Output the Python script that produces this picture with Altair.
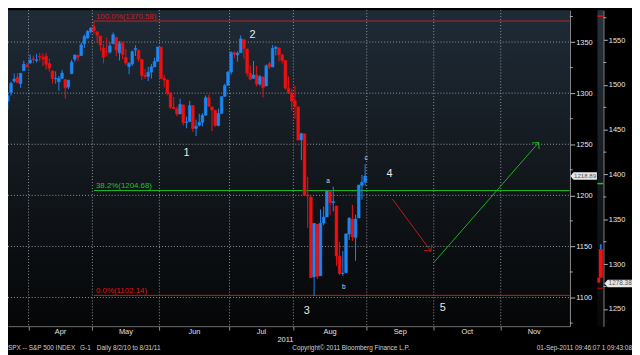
import altair as alt
import pandas as pd

# ---------------- data (S&P 500 daily candles) ----------------
dates = ["2011-03-22","2011-03-23","2011-03-24","2011-03-25","2011-03-28","2011-03-29","2011-03-30","2011-03-31",
         "2011-04-01","2011-04-04","2011-04-05","2011-04-06","2011-04-07","2011-04-08","2011-04-11","2011-04-12",
         "2011-04-13","2011-04-14","2011-04-15","2011-04-18","2011-04-19","2011-04-20","2011-04-21","2011-04-25",
         "2011-04-26","2011-04-27","2011-04-28","2011-04-29","2011-05-02","2011-05-03","2011-05-04","2011-05-05",
         "2011-05-06","2011-05-09","2011-05-10","2011-05-11","2011-05-12","2011-05-13","2011-05-16","2011-05-17",
         "2011-05-18","2011-05-19","2011-05-20","2011-05-23","2011-05-24","2011-05-25","2011-05-26","2011-05-27",
         "2011-05-31","2011-06-01","2011-06-02","2011-06-03","2011-06-06","2011-06-07","2011-06-08","2011-06-09",
         "2011-06-10","2011-06-13","2011-06-14","2011-06-15","2011-06-16","2011-06-17","2011-06-20","2011-06-21",
         "2011-06-22","2011-06-23","2011-06-24","2011-06-27","2011-06-28","2011-06-29","2011-06-30","2011-07-01",
         "2011-07-05","2011-07-06","2011-07-07","2011-07-08","2011-07-11","2011-07-12","2011-07-13","2011-07-14",
         "2011-07-15","2011-07-18","2011-07-19","2011-07-20","2011-07-21","2011-07-22","2011-07-25","2011-07-26",
         "2011-07-27","2011-07-28","2011-07-29","2011-08-01","2011-08-02","2011-08-03","2011-08-04","2011-08-05",
         "2011-08-08","2011-08-09","2011-08-10","2011-08-11","2011-08-12","2011-08-15","2011-08-16","2011-08-17",
         "2011-08-18","2011-08-19","2011-08-22","2011-08-23","2011-08-24","2011-08-25","2011-08-26","2011-08-29",
         "2011-08-30","2011-08-31"]
opens = [1298.29,1292.19,1300.61,1311.80,1315.45,1309.37,1321.89,1327.44,
         1329.48,1333.56,1332.03,1335.94,1334.82,1336.16,1329.01,1321.96,
         1314.03,1311.13,1314.54,1313.35,1305.99,1319.12,1333.23,1337.14,
         1336.75,1348.43,1353.86,1360.14,1365.21,1359.76,1355.90,1344.16,
         1340.24,1340.20,1348.34,1354.51,1339.39,1348.69,1334.77,1326.10,
         1328.54,1342.40,1342.00,1333.07,1317.70,1316.36,1320.64,1325.69,
         1331.10,1345.20,1314.55,1312.94,1300.26,1286.31,1284.63,1279.63,
         1288.60,1271.31,1272.22,1287.87,1265.53,1268.58,1271.50,1278.40,
         1295.48,1286.60,1283.04,1268.44,1280.21,1296.85,1307.64,1320.64,
         1339.59,1337.56,1339.62,1352.39,1343.31,1319.61,1314.45,1317.74,
         1308.87,1315.94,1307.07,1328.66,1325.65,1343.80,1344.32,1337.39,
         1331.91,1304.84,1300.12,1292.59,1286.56,1254.25,1260.23,1200.28,
         1198.48,1120.23,1171.77,1121.30,1172.87,1178.86,1204.22,1192.89,
         1189.62,1140.47,1123.55,1124.36,1162.16,1176.69,1158.85,1177.91,
         1209.76,1213.00]
highs = [1299.35,1300.51,1311.34,1319.18,1319.74,1319.45,1331.74,1329.77,
         1337.85,1336.74,1338.21,1339.38,1338.80,1339.46,1333.77,1321.96,
         1321.35,1316.79,1322.88,1313.35,1312.70,1332.66,1337.49,1337.55,
         1349.55,1357.49,1361.71,1364.56,1370.58,1360.84,1355.90,1348.00,
         1354.36,1349.44,1359.44,1354.51,1351.05,1350.47,1343.33,1330.42,
         1341.82,1346.82,1342.00,1333.07,1323.72,1325.86,1328.51,1334.62,
         1345.20,1345.20,1318.03,1312.94,1300.26,1296.22,1287.04,1294.54,
         1288.60,1277.04,1292.50,1287.87,1274.11,1279.82,1280.42,1297.62,
         1298.61,1286.60,1283.93,1284.91,1296.80,1309.21,1321.97,1341.01,
         1340.89,1340.94,1356.48,1352.39,1343.31,1327.17,1331.48,1326.88,
         1317.70,1315.94,1328.14,1330.43,1347.00,1346.10,1344.32,1338.51,
         1331.91,1316.32,1304.16,1307.38,1286.56,1261.20,1260.23,1218.11,
         1198.48,1172.88,1171.77,1186.29,1189.04,1204.49,1204.22,1208.47,
         1189.62,1154.54,1145.49,1162.35,1178.56,1190.68,1181.23,1210.28,
         1220.10,1230.71]
lows = [1292.70,1284.05,1297.74,1310.15,1310.19,1305.26,1321.89,1325.03,
        1328.89,1329.10,1330.03,1331.09,1326.56,1322.94,1321.06,1309.51,
        1309.19,1302.42,1313.68,1294.70,1303.97,1319.12,1330.70,1331.47,
        1336.75,1344.25,1353.60,1358.69,1358.59,1349.52,1341.50,1329.17,
        1335.58,1338.64,1348.34,1336.36,1332.03,1333.36,1327.32,1318.51,
        1326.59,1336.36,1330.67,1312.88,1313.87,1311.80,1314.41,1325.69,
        1331.10,1313.71,1305.61,1297.90,1284.72,1284.74,1277.42,1279.63,
        1268.28,1265.64,1272.22,1261.90,1258.07,1267.40,1267.56,1278.40,
        1286.79,1262.87,1267.24,1267.53,1280.21,1296.85,1307.64,1318.18,
        1334.30,1330.92,1339.62,1333.71,1316.42,1313.33,1314.45,1306.51,
        1307.35,1295.92,1307.07,1323.65,1325.65,1336.95,1331.09,1329.10,
        1303.49,1299.16,1282.86,1274.73,1254.03,1234.56,1199.54,1168.09,
        1119.28,1101.54,1118.01,1121.30,1170.74,1178.86,1180.53,1184.36,
        1131.03,1122.05,1121.09,1124.36,1156.30,1155.47,1135.91,1177.91,
        1195.77,1209.35]
closes = [1293.77,1297.54,1309.66,1313.80,1310.19,1319.44,1328.26,1325.83,
          1332.41,1332.87,1332.63,1335.54,1333.51,1328.17,1324.46,1314.16,
          1314.41,1314.52,1319.68,1305.14,1312.62,1330.36,1337.38,1335.25,
          1347.24,1355.66,1360.48,1363.61,1361.22,1356.62,1347.32,1335.10,
          1340.20,1346.29,1357.16,1342.08,1348.65,1337.77,1329.47,1328.98,
          1340.68,1343.60,1333.27,1317.37,1316.28,1320.47,1325.69,1331.10,
          1345.20,1314.55,1312.94,1300.16,1286.17,1284.94,1279.56,1289.00,
          1270.98,1271.83,1287.87,1265.42,1267.64,1271.50,1278.36,1295.52,
          1287.14,1283.50,1268.45,1280.10,1296.67,1307.41,1320.64,1339.67,
          1337.88,1339.22,1353.22,1343.80,1319.49,1313.64,1317.72,1308.87,
          1316.14,1305.44,1326.73,1325.84,1343.80,1345.02,1337.43,1331.94,
          1304.89,1300.67,1292.28,1286.94,1254.05,1260.34,1200.07,1199.38,
          1119.46,1172.53,1120.76,1172.64,1178.81,1204.49,1192.76,1193.89,
          1140.65,1123.53,1123.82,1162.35,1177.60,1159.27,1176.80,1210.08,
          1212.92,1218.89]

# trading days per month (first entry: the visible part of March)
first_month_days = 8
month_names = ["Apr", "May", "Jun", "Jul", "Aug", "Sep", "Oct", "Nov"]
month_days = [20, 21, 22, 20, 23, 21, 21, 21]

y_major = [1100, 1150, 1200, 1250, 1300, 1350]
y_minor = [1075, 1125, 1175, 1225, 1275, 1325, 1375]

fib_labels = ["100.0%(1370.58)", "38.2%(1204.68)", "0.0%(1102.14)"]
fib_values = [1370.58, 1204.68, 1102.14]
fib_colors = ["#c81e1e", "#22c022", "#e01414"]
fib_start = [28, 28, 28]

wave_text = ["1", "2", "3", "4", "5"]
wave_idx = [57.0, 77.7, 94.7, 120.6, 137.3]
wave_price = [1241.0, 1357.0, 1086.5, 1220.8, 1089.6]

sub_text = ["a", "b", "c"]
sub_idx = [101.4, 106.3, 113.3]
sub_price = [1214.0, 1109.8, 1237.0]

arrow_from_idx = [121.5, 134.6]
arrow_from_price = [1196.6, 1134.5]
arrow_to_idx = [133.6, 167.4]
arrow_to_price = [1145.4, 1251.7]
arrow_colors = ["#c01818", "#22b022"]
arrow_angles = [143.0, 41.7]

last_price = [1218.89]
last_label = ["1218.89"]

# small right-hand panel
mini_levels = [1576.8, 1389.9, 1273.0]
mini_level_colors = ["#e01010", "#22c022", "#8b0a0a"]
mini_x = [0, 0, 1]
mini_lo = [1316.8, 1284.8, 1279.3]
mini_hi = [1322.3, 1316.8, 1284.8]
mini_colors = ["#1d86f2", "#f01010", "#f01010"]
mini_w = [1.5, 4, 3]
mini_major = [1250, 1300, 1350, 1400, 1450, 1500, 1550]
mini_minor = [1275, 1325, 1375, 1425, 1475, 1525, 1575]
mini_last = [1278.38]
mini_last_label = ["1278.38"]

footer_text = ["SPX -- S&P 500 INDEX", "G-1", "Daily  8/2/10 to 8/31/11",
               "Copyright\u00a9 2011 Bloomberg Finance L.P.", "01-Sep-2011 09:46:07 1 09:43:08"]
footer_x = [0, 73, 90, 288, 632]
footer_align = ["left", "left", "left", "left", "right"]

# ---------------- layout ----------------
W, H = 569, 320
X_DOMAIN = [2.6, 175.6]
Y_DOMAIN = [1072.0, 1381.2]
MINI_DOMAIN = [1230.8, 1583.4]
FONT = "Liberation Sans"
UP, DOWN = "#1d86f2", "#f01010"
GRID = "#8f979e"

bounds = []
s = first_month_days - 0.5
for d in month_days:
    bounds.append(s)
    s += d
bounds_end = bounds[1:] + [s]
centers = [(a + b) / 2 for a, b in zip(bounds, bounds_end)]

cdf = pd.DataFrame({"date": dates, "open": opens, "high": highs, "low": lows, "close": closes})
cdf["i"] = range(len(cdf))
cdf["dir"] = ["up" if c >= o else "down" for o, c in zip(opens, closes)]

xs = alt.Scale(domain=X_DOMAIN, nice=False, zero=False)
ys = alt.Scale(domain=Y_DOMAIN, nice=False, zero=False)
mys = alt.Scale(domain=MINI_DOMAIN, nice=False, zero=False)
cscale = alt.Scale(domain=["up", "down"], range=[UP, DOWN])

grad = {"gradient": "linear", "x1": 0, "x2": 0, "y1": 0, "y2": 1,
        "stops": [{"offset": 0, "color": "#1f2b37"},
                  {"offset": 0.45, "color": "#141a20"},
                  {"offset": 1, "color": "#050607"}]}
grad_mini = {"gradient": "linear", "x1": 0, "x2": 0, "y1": 0, "y2": 1,
             "stops": [{"offset": 0, "color": "#27313a"},
                       {"offset": 0.5, "color": "#161b20"},
                       {"offset": 1, "color": "#060708"}]}

one = pd.DataFrame({"k": [0]})

x_axis = alt.Axis(values=bounds, labels=False, ticks=True, tickSize=4, tickColor="#8c8c8c",
                  domainColor="#8c8c8c", grid=False, title=None)
y_axis = alt.Axis(orient="right", values=y_major, format="d", grid=False, tickSize=5,
                  tickColor="#b4b4b4", domainColor="#a8a8a8", labelColor="#e8e8e8",
                  labelFont=FONT, labelFontSize=7.5, labelPadding=1, title=None)
mini_axis = alt.Axis(orient="right", offset=34, values=mini_major, format="d", grid=False,
                     tickSize=4, tickColor="#b4b4b4", domainColor="#a8a8a8", labelColor="#e8e8e8",
                     labelFont=FONT, labelFontSize=7.5, labelPadding=1, title=None)


def X(field):
    return alt.X(field, scale=xs, axis=x_axis)


def Y(field):
    return alt.Y(field, scale=ys, axis=y_axis)


def MY(field):
    return alt.Y(field, scale=mys, axis=mini_axis)


bg = alt.Chart(one).mark_rect(color=grad).encode(
    x=alt.value(0), x2=alt.value(W), y=alt.value(0), y2=alt.value(H))

hgrid = alt.Chart(pd.DataFrame({"v": y_major})).mark_rule(
    color=GRID, strokeDash=[1, 2], strokeWidth=1).encode(
    y=Y("v:Q"), x=alt.value(0), x2=alt.value(W))
vgrid = alt.Chart(pd.DataFrame({"b": bounds})).mark_rule(
    color=GRID, strokeDash=[1, 2], strokeWidth=1).encode(
    x=X("b:Q"), y=alt.value(0), y2=alt.value(H))

minor = alt.Chart(pd.DataFrame({"v": y_minor})).mark_rule(color="#a8a8a8").encode(
    y=Y("v:Q"), x=alt.value(W), x2=alt.value(W + 3))

wick = alt.Chart(cdf).mark_rule(strokeWidth=1).encode(
    x=X("i:Q"), y=Y("low:Q"), y2="high:Q",
    color=alt.Color("dir:N", scale=cscale, legend=None))
body = alt.Chart(cdf).mark_bar(size=2.7, strokeWidth=0.6).encode(
    x=X("i:Q"), y=Y("open:Q"), y2="close:Q",
    color=alt.Color("dir:N", scale=cscale, legend=None),
    stroke=alt.Stroke("dir:N", scale=cscale, legend=None))

fdf = pd.DataFrame({"label": fib_labels, "value": fib_values, "color": fib_colors, "start": fib_start})
fib_rule = alt.Chart(fdf).mark_rule(strokeWidth=1).encode(
    x=X("start:Q"), x2=alt.value(W), y=Y("value:Q"), color=alt.Color("color:N", scale=None))
fib_text = alt.Chart(fdf).mark_text(align="left", baseline="middle", dx=2, dy=-4.5,
                                    font=FONT, fontSize=8).encode(
    x=X("start:Q"), y=Y("value:Q"), text="label:N", color=alt.Color("color:N", scale=None))

adf = pd.DataFrame({"x1": arrow_from_idx, "y1": arrow_from_price, "x2": arrow_to_idx,
                    "y2": arrow_to_price, "color": arrow_colors, "angle": arrow_angles})
arrow_line = alt.Chart(adf).mark_rule(strokeWidth=1).encode(
    x=X("x1:Q"), y=Y("y1:Q"), x2="x2:Q", y2="y2:Q", color=alt.Color("color:N", scale=None))
arrow_head = alt.Chart(adf).mark_point(shape="M-1,1L0,0L1,1", filled=False, size=90,
                                       strokeWidth=1, opacity=1).encode(
    x=X("x2:Q"), y=Y("y2:Q"),
    angle=alt.Angle("angle:Q", scale=None), color=alt.Color("color:N", scale=None))

wdf = pd.DataFrame({"t": wave_text, "i": wave_idx, "p": wave_price})
wave = alt.Chart(wdf).mark_text(font=FONT, fontSize=11, color="#e8e8e8", baseline="middle").encode(
    x=X("i:Q"), y=Y("p:Q"), text="t:N")
sdf = pd.DataFrame({"t": sub_text, "i": sub_idx, "p": sub_price})
sub = alt.Chart(sdf).mark_text(font=FONT, fontSize=6.5, color="#d8d8d8", baseline="middle").encode(
    x=X("i:Q"), y=Y("p:Q"), text="t:N")

TAG = "M-1.15,0L-0.9,-0.3L1,-0.3L1,0.3L-0.9,0.3Z"
ldf = pd.DataFrame({"p": last_price, "t": last_label})
tag = alt.Chart(ldf).mark_point(shape=TAG, filled=True, size=625, color="#e6e6e6", opacity=1,
                                strokeWidth=0).encode(
    x=alt.value(584), y=Y("p:Q"))
tag_text = alt.Chart(ldf).mark_text(font=FONT, fontSize=6.2, color="#555555", baseline="middle").encode(
    x=alt.value(584.5), y=Y("p:Q"), text="t:N")

mdf = pd.DataFrame({"m": month_names, "c": centers})
months = alt.Chart(mdf).mark_text(font=FONT, fontSize=7.5, color="#e0e0e0", baseline="middle").encode(
    x=X("c:Q"), y=alt.value(H + 6), text="m:N")
year = alt.Chart(pd.DataFrame({"t": ["2011"], "c": [bounds[4] - 2.5]})).mark_text(
    font=FONT, fontSize=7.5, color="#e0e0e0", baseline="middle").encode(
    x=X("c:Q"), y=alt.value(H + 14), text="t:N")

footers = []
for t, fx, al in zip(footer_text, footer_x, footer_align):
    footers.append(alt.Chart(pd.DataFrame({"t": [t]})).mark_text(
        font=FONT, fontSize=6.5, color="#d0d0d0", baseline="middle", align=al).encode(
        x=alt.value(fx), y=alt.value(H + 22), text="t:N"))

main = alt.layer(bg, hgrid, vgrid, minor, fib_rule, fib_text, wick, body,
                 arrow_line, arrow_head, wave, sub, tag, tag_text, months, year, *footers)

# ---- mini panel ----
mini_bg = alt.Chart(one).mark_rect(color=grad_mini).encode(
    x=alt.value(597), x2=alt.value(603), y=alt.value(0), y2=alt.value(H))
mldf = pd.DataFrame({"v": mini_levels, "color": mini_level_colors})
mini_lv = alt.Chart(mldf).mark_rule(strokeWidth=1.5).encode(
    y=MY("v:Q"), x=alt.value(597), x2=alt.value(603),
    color=alt.Color("color:N", scale=None))
mbdf = pd.DataFrame({"mx": mini_x, "lo": mini_lo, "hi": mini_hi, "color": mini_colors, "w": mini_w})
mini_bars = alt.Chart(mbdf).mark_bar().encode(
    x=alt.X("mx:Q", scale=alt.Scale(domain=[-0.8, 1.2], range=[597, 603]), axis=None),
    y=MY("lo:Q"), y2="hi:Q",
    color=alt.Color("color:N", scale=None), size=alt.Size("w:Q", scale=None))
mini_minor_t = alt.Chart(pd.DataFrame({"v": mini_minor})).mark_rule(color="#a8a8a8").encode(
    y=MY("v:Q"), x=alt.value(603), x2=alt.value(606))
mlast = pd.DataFrame({"p": mini_last, "t": mini_last_label})
mini_tag = alt.Chart(mlast).mark_point(shape=TAG, filled=True, size=676, color="#e6e6e6", opacity=1,
                                      strokeWidth=0).encode(
    x=alt.value(619), y=MY("p:Q"))
mini_tag_text = alt.Chart(mlast).mark_text(font=FONT, fontSize=6.5, color="#555555",
                                           baseline="middle").encode(
    x=alt.value(620), y=MY("p:Q"), text="t:N")

mini = alt.layer(mini_bg, mini_lv, mini_bars, mini_minor_t, mini_tag, mini_tag_text)

chart = alt.layer(main, mini).resolve_scale(y="independent", x="independent").properties(
    width=W, height=H,
    autosize=alt.AutoSizeParams(type="none"),
    padding={"left": 0, "top": 0, "right": 63, "bottom": 27},
    background="#000000",
).configure_view(stroke=None)

chart.save("out.html", embed_options={"renderer": "svg", "actions": False})
